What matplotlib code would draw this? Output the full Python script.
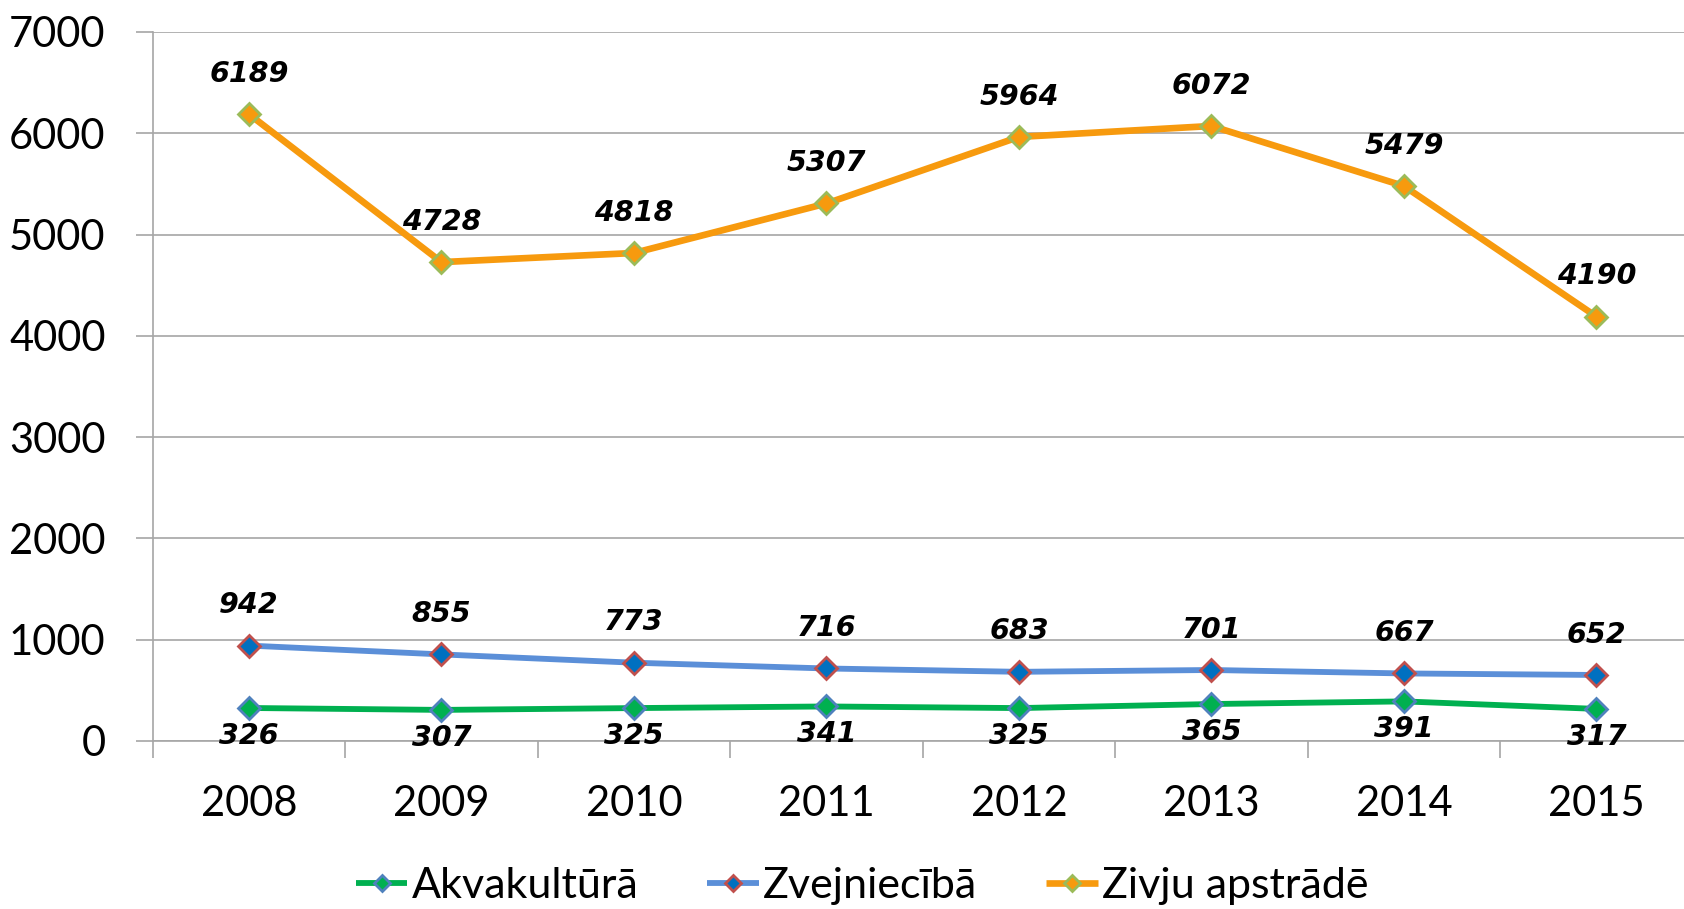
import matplotlib
matplotlib.use("Agg")
import matplotlib.pyplot as plt
from matplotlib.ticker import FixedLocator

years = ["2008", "2009", "2010", "2011", "2012", "2013", "2014", "2015"]
akvakultura = [326, 307, 325, 341, 325, 365, 391, 317]
zvejnieciba = [942, 855, 773, 716, 683, 701, 667, 652]
zivju_apstrade = [6189, 4728, 4818, 5307, 5964, 6072, 5479, 4190]
series_names = ["Akvakultūrā", "Zvejniecībā", "Zivju apstrādē"]

font = ["Lato", "DejaVu Sans"]

fig = plt.figure(figsize=(16.84, 9.09), dpi=100)
ax = fig.add_axes([152.7 / 1684, 1 - 741 / 909, 1540 / 1684, (741 - 32) / 909])

x = list(range(len(years)))

styles = [
    dict(color="#00B050", mfc="#00B050", mec="#4F81BD", lw=4.2, ms=11),
    dict(color="#5B8FD8", mfc="#0070C0", mec="#C0504D", lw=4.2, ms=11),
    dict(color="#F79A0E", mfc="#F79A0E", mec="#9BBB59", lw=4.8, ms=11),
]
data = [akvakultura, zvejnieciba, zivju_apstrade]
for vals, name, st in zip(data, series_names, styles):
    ax.plot(x, vals, marker="D", color=st["color"], lw=st["lw"], ms=st["ms"],
            markerfacecolor=st["mfc"], markeredgecolor=st["mec"], markeredgewidth=2,
            label=name, zorder=3, solid_capstyle="butt")

label_font = dict(fontsize=20.5, fontweight="bold", fontstyle="italic",
                  family=["DejaVu Sans"], color="black", ha="center")
for i, v in enumerate(zivju_apstrade):
    ax.annotate(str(v), (i, v), xytext=(0, 19), textcoords="offset points",
                va="bottom", **label_font, zorder=5)
for i, v in enumerate(zvejnieciba):
    ax.annotate(str(v), (i, v), xytext=(0, 19), textcoords="offset points",
                va="bottom", **label_font, zorder=5)
for i, v in enumerate(akvakultura):
    ax.annotate(str(v), (i, v), xytext=(0, -10), textcoords="offset points",
                va="top", **label_font, zorder=5)

ax.set_xlim(-0.5, len(years) - 0.5)
ax.set_ylim(0, 7000)
ax.set_yticks(range(0, 7001, 1000))
ax.yaxis.grid(True, color="#A6A6A6", lw=1.2)
ax.set_axisbelow(True)

ax.set_xticks(x)
ax.set_xticklabels(years, family=font, fontsize=30)
ax.xaxis.set_minor_locator(FixedLocator([i + 0.5 for i in range(-1, len(years))]))
ax.tick_params(axis="x", which="major", length=0, pad=32)
ax.tick_params(axis="x", which="minor", length=12, width=1.2, color="#A6A6A6", direction="out")
ax.tick_params(axis="y", length=12, width=1.2, color="#A6A6A6", pad=22, labelsize=30)
for lbl in ax.get_yticklabels():
    lbl.set_family(font)

for s in ["top", "right"]:
    ax.spines[s].set_visible(False)
for s in ["left", "bottom"]:
    ax.spines[s].set_color("#A6A6A6")
    ax.spines[s].set_linewidth(1.2)

leg = fig.legend(loc="center", bbox_to_anchor=(0.512, 1 - 886 / 909), ncol=3, frameon=False,
                 prop=dict(family=font, size=31), handlelength=1.2, handletextpad=0.1,
                 columnspacing=1.6, markerscale=0.7)

fig.savefig("out.png", dpi=100)
